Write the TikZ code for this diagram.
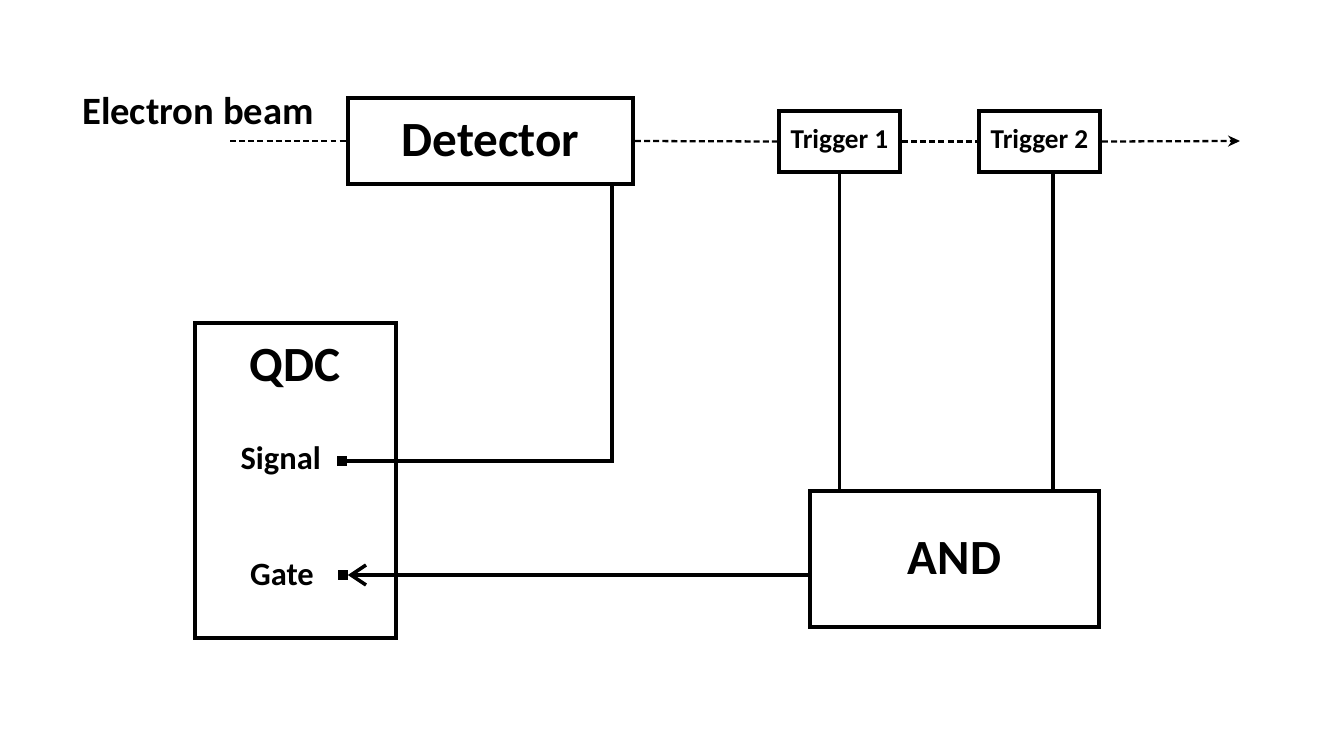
\documentclass[tikz,border=0pt]{standalone}
\usepackage{fontspec}
\setmainfont{Carlito}
\usetikzlibrary{arrows.meta}

\begin{document}
\begin{tikzpicture}[x=0.02cm, y=-0.02cm, font=\bfseries, box/.style={draw, line width=2.2pt, inner sep=0pt, align=center}, wire/.style={line width=2pt}, beam/.style={line width=1.3pt, dash pattern=on 3.4pt off 1.8pt}, port/.style={fill, inner sep=0pt, minimum size=0.2cm}]
\useasboundingbox (0,0) rectangle (1334,750);
\node[font=\fontsize{22}{26}\selectfont\bfseries] (label) at (198,111) {Electron beam};
\node[box, minimum width=5.7cm, minimum height=1.72cm, font=\fontsize{28}{33}\selectfont\bfseries] (det) at (490.5,141) {Detector};
\node[box, minimum width=2.42cm, minimum height=1.22cm, font=\fontsize{15.5}{19}\selectfont\bfseries] (trig1) at (839.5,141.5) {Trigger 1};
\node[box, minimum width=2.42cm, minimum height=1.22cm, font=\fontsize{15.5}{19}\selectfont\bfseries] (trig2) at (1039.5,141.5) {Trigger 2};
\node[box, minimum width=4.02cm, minimum height=6.3cm] (qdc) at (295.5,480.5) {};
\node[font=\fontsize{28}{33}\selectfont\bfseries] (qdctitle) at (295,368) {QDC};
\node[box, minimum width=5.78cm, minimum height=2.72cm, font=\fontsize{28}{33}\selectfont\bfseries] (and) at (954.5,559) {AND};
\node[port] (sig) at (341.5,461) {};
\node[port] (gate) at (342.5,575) {};
\node[anchor=east, font=\fontsize{18.5}{22}\selectfont\bfseries] (siglabel) at (327,461) {Signal};
\node[anchor=east, font=\fontsize{18.5}{22}\selectfont\bfseries] (gatelabel) at (320,575) {Gate};
\coordinate (beamin) at (230,141);
\coordinate (beamout) at (1240,141);
% beam line
\draw[beam] (beamin) -- (det.west);
\draw[beam] (det.east) -- (trig1.west);
\draw[beam] (trig1.east) -- (trig2.west);
\draw[beam, -{Stealth[length=0.24cm, width=0.22cm]}] (trig2.east) -- (beamout);
% signals
\draw[wire] ([xshift=-0.46cm]det.south east) |- (sig);
\draw[wire] (trig1.south) -- (trig1.south |- and.north);
\draw[wire] ([xshift=0.27cm]trig2.south) coordinate (t2) -- (t2 |- and.north);
\draw[wire, -{Straight Barb[length=0.3cm, width=0.4cm, line width=2pt]}] (and.west |- gate) -- (gate);
\end{tikzpicture}
\end{document}
